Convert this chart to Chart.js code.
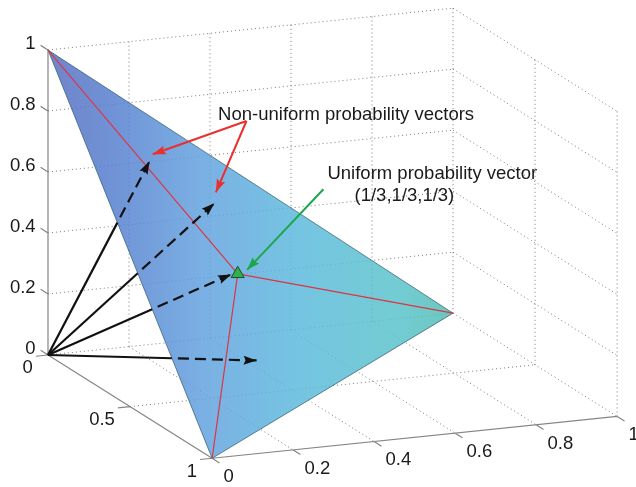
<!DOCTYPE html>
<html>
<head>
<meta charset="utf-8">
<script src="https://cdn.jsdelivr.net/npm/chart.js@4.4.1/dist/chart.umd.min.js"></script>
<style>
html,body{margin:0;padding:0;background:#fff;overflow:hidden}
#wrap{position:relative;width:636px;height:487px}
</style>
</head>
<body>
<div id="wrap"><canvas id="chart"></canvas></div>
<script>
// ---------------- data ----------------
const xTicks = [0, 0.2, 0.4, 0.6, 0.8, 1];
const yTicks = [0, 0.5, 1];
const zTicks = [0, 0.2, 0.4, 0.6, 0.8, 1];
const xTickLabels = ['0', '0.2', '0.4', '0.6', '0.8', '1'];
const yTickLabels = ['0', '0.5', '1'];
const zTickLabels = ['0', '0.2', '0.4', '0.6', '0.8', '1'];

// probability simplex vertices (x, y, z)
const simplexVertices = [[0, 0, 1], [1, 0, 0], [0, 1, 0]];
const uniformVector = [1 / 3, 1 / 3, 1 / 3];
// probability vectors drawn from the origin (arrow tips)
const probabilityVectors = [
  [0.19, 0.15, 0.66],
  [0.35, 0.15, 0.50],
  [0.31, 0.35, 0.34],
  [0.28, 0.58, 0.14]
];

// annotation texts and their anchor points (3-D)
const nonUniformText = 'Non-uniform probability vectors';
const uniformText = 'Uniform probability vector';
const uniformValueText = '(1/3,1/3,1/3)';
const nonUniformTextAt = [0.42, 0, 0.73];
const nonUniformPointerFrom = [0.49, 0, 0.70];
const nonUniformPointerTo = [[0.21, 0.12, 0.67], [0.37, 0.11, 0.52]];
const uniformTextAt = [0.69, 0, 0.50];
const uniformValueTextAt = [0.88, 0, 0.40];
const uniformPointerFrom = [0.68, 0, 0.45];
const uniformPointerTo = [0.37, 0.30, 0.33];

// ---------------- 3-D view (orthographic) ----------------
const VIEW = { az: 22.06, el: 14.77, len: [437, 437, 315.4] };
function project(p) {
  const a = VIEW.az * Math.PI / 180, e = VIEW.el * Math.PI / 180;
  const X = p[0] * VIEW.len[0], Y = p[1] * VIEW.len[1], Z = p[2] * VIEW.len[2];
  return {
    x: X * Math.cos(a) + Y * Math.sin(a),
    y: Math.sin(e) * (X * Math.sin(a) - Y * Math.cos(a)) + Math.cos(e) * Z
  };
}
function segData(segs) {
  const out = [];
  segs.forEach(([a, b]) => {
    const pa = project(a), pb = project(b);
    out.push(pa, pb, { x: pb.x, y: null });
  });
  return out;
}
function lerp3(a, b, t) { return [a[0] + (b[0] - a[0]) * t, a[1] + (b[1] - a[1]) * t, a[2] + (b[2] - a[2]) * t]; }
// parameter t along p1->p2 where it crosses line p3-p4 (2-D projected)
function crossParam(p1, p2, p3, p4) {
  const a = project(p1), b = project(p2), c = project(p3), d = project(p4);
  const r = { x: b.x - a.x, y: b.y - a.y }, s = { x: d.x - c.x, y: d.y - c.y };
  const den = r.x * s.y - r.y * s.x;
  return ((c.x - a.x) * s.y - (c.y - a.y) * s.x) / den;
}

// ---------------- build datasets ----------------
const FONT = '"Liberation Sans", Arial, Helvetica, sans-serif';
const layers = [];
function addLayer(ds) { layers.push(Object.assign({
  type: 'line', pointRadius: 0, pointHoverRadius: 0, fill: false, tension: 0,
  clip: false, spanGaps: false, borderCapStyle: 'butt'
}, ds)); }

// grid
const gridSegs = [];
xTicks.forEach(x => { if (x > 0) gridSegs.push([[x, 0, 0], [x, 0, 1]]); });
zTicks.forEach(z => { if (z > 0) gridSegs.push([[0, 0, z], [1, 0, z]]); });
yTicks.forEach(y => { if (y > 0) gridSegs.push([[1, y, 0], [1, y, 1]]); });
zTicks.forEach(z => { if (z > 0) gridSegs.push([[1, 0, z], [1, 1, z]]); });
xTicks.forEach(x => { if (x > 0) gridSegs.push([[x, 0, 0], [x, 1, 0]]); });
yTicks.forEach(y => { if (y < 1) gridSegs.push([[0, y, 0], [1, y, 0]]); });
addLayer({ data: segData(gridSegs), borderColor: '#7a7a7a', borderWidth: 1, borderDash: [1, 3] });

// axis lines and tick marks
const axisSegs = [
  [[0, 0, 0], [0, 0, 1]],
  [[0, 0, 0], [0, 1, 0]],
  [[0, 1, 0], [1, 1, 0]]
];
const Z_TICK = [0, -0.045, 0], Y_TICK = [-0.03, 0, 0], X_TICK = [0, 0.045, 0];
const add3 = (a, b) => [a[0] + b[0], a[1] + b[1], a[2] + b[2]];
zTicks.forEach(z => axisSegs.push([[0, 0, z], add3([0, 0, z], Z_TICK)]));
yTicks.forEach(y => axisSegs.push([[0, y, 0], add3([0, y, 0], Y_TICK)]));
xTicks.forEach(x => axisSegs.push([[x, 1, 0], add3([x, 1, 0], X_TICK)]));
addLayer({ data: segData(axisSegs), borderColor: '#858585', borderWidth: 1.2 });

// simplex (semi-transparent, interpolated colour)
const [VA, VB, VC] = simplexVertices;
addLayer({
  data: [VA, VB, VC, VA].map(project),
  fill: 'shape',
  borderColor: 'rgba(55,95,115,0.75)',
  borderWidth: 1,
  backgroundColor: (context) => {
    const chart = context.chart;
    if (!chart.chartArea) return 'rgba(100,160,220,0.85)';
    const sx = chart.scales.x;
    const x0 = sx.getPixelForValue(project(VA).x), x1 = sx.getPixelForValue(project(VB).x);
    const g = chart.ctx.createLinearGradient(x0, 0, x1, 0);
    g.addColorStop(0.00, 'rgba(88,110,192,0.85)');
    g.addColorStop(0.15, 'rgba(86,126,206,0.85)');
    g.addColorStop(0.38, 'rgba(99,162,223,0.85)');
    g.addColorStop(0.62, 'rgba(93,186,221,0.85)');
    g.addColorStop(0.87, 'rgba(90,195,202,0.85)');
    g.addColorStop(1.00, 'rgba(82,189,180,0.85)');
    return g;
  }
});

// medians to the uniform vector
addLayer({ data: segData(simplexVertices.map(v => [v, uniformVector])), borderColor: '#dc3545', borderWidth: 1.2 });

// probability vectors: solid outside the simplex, dashed where seen through it
const ORIGIN = [0, 0, 0];
probabilityVectors.forEach(v => {
  const t = crossParam(ORIGIN, v, VA, VC);
  const I = lerp3(ORIGIN, v, t);
  addLayer({ data: [ORIGIN, I].map(project), borderColor: '#111', borderWidth: 2.2 });
  addLayer({ data: [I, v].map(project), borderColor: '#111', borderWidth: 2.2,
    borderDash: [11, 6], borderDashOffset: 11, arrowHead: { length: 13, width: 9 } });
});

// uniform vector marker
addLayer({ data: [project(uniformVector)], pointRadius: 7.5, pointStyle: 'triangle',
  pointBackgroundColor: '#2fb24c', pointBorderColor: '#1d4a28', pointBorderWidth: 1, borderWidth: 0 });

// annotation pointers
nonUniformPointerTo.forEach(p => addLayer({ data: [nonUniformPointerFrom, p].map(project),
  borderColor: '#e8312c', borderWidth: 2, arrowHead: { length: 13, width: 9 } }));
addLayer({ data: [uniformPointerFrom, uniformPointerTo].map(project),
  borderColor: '#1ea64a', borderWidth: 2, arrowHead: { length: 13, width: 9 } });

layers.forEach((d, i) => { d.order = layers.length - i; });

// ---------------- plugins ----------------
const arrowHeads = {
  id: 'arrowHeads',
  afterDatasetDraw(chart, args) {
    const ds = chart.data.datasets[args.index];
    if (!ds.arrowHead) return;
    const pts = args.meta.data, a = pts[pts.length - 2], b = pts[pts.length - 1];
    const ang = Math.atan2(b.y - a.y, b.x - a.x);
    const { length: L, width: W } = ds.arrowHead;
    const ctx = chart.ctx;
    ctx.save();
    ctx.translate(b.x, b.y); ctx.rotate(ang);
    ctx.beginPath(); ctx.moveTo(0, 0); ctx.lineTo(-L, W / 2); ctx.lineTo(-L * 0.85, 0); ctx.lineTo(-L, -W / 2); ctx.closePath();
    ctx.fillStyle = ds.borderColor; ctx.fill();
    ctx.restore();
  }
};

const texts = {
  id: 'texts',
  afterDatasetsDraw(chart) {
    const { ctx } = chart, sx = chart.scales.x, sy = chart.scales.y;
    const px = p => { const q = project(p); return [sx.getPixelForValue(q.x), sy.getPixelForValue(q.y)]; };
    ctx.save();
    ctx.fillStyle = '#1a1a1a';
    ctx.font = '18.5px ' + FONT;
    ctx.textBaseline = 'middle';
    ctx.textAlign = 'right';
    zTicks.forEach((z, i) => { const [x, y] = px(add3([0, 0, z], Z_TICK)); ctx.fillText(zTickLabels[i], x - 5, y - 1); });
    yTicks.forEach((v, i) => { const [x, y] = px(add3([0, v, 0], Y_TICK)); ctx.fillText(yTickLabels[i], x - 3, y + 12); });
    ctx.textAlign = 'left';
    xTicks.forEach((v, i) => { const [x, y] = px(add3([v, 1, 0], X_TICK)); ctx.fillText(xTickLabels[i], x + 4, y + 14); });
    let [x, y] = px(nonUniformTextAt); ctx.fillText(nonUniformText, x, y);
    [x, y] = px(uniformTextAt); ctx.fillText(uniformText, x, y);
    ctx.textAlign = 'center';
    [x, y] = px(uniformValueTextAt); ctx.fillText(uniformValueText, x, y);
    ctx.restore();
  }
};

// ---------------- chart ----------------
const O = project([0, 0, 0]);
new Chart(document.getElementById('chart'), {
  type: 'line',
  data: { datasets: layers },
  options: {
    responsive: true, maintainAspectRatio: false, animation: false, devicePixelRatio: 1,
    layout: { padding: 0, autoPadding: false },
    events: [],
    scales: {
      x: { type: 'linear', display: false, min: O.x - 48, max: O.x - 48 + 636 },
      y: { type: 'linear', display: false, min: O.y - 132, max: O.y + 355 }
    },
    plugins: { legend: { display: false }, tooltip: { enabled: false } }
  },
  plugins: [arrowHeads, texts]
});
</script>
</body>
</html>
